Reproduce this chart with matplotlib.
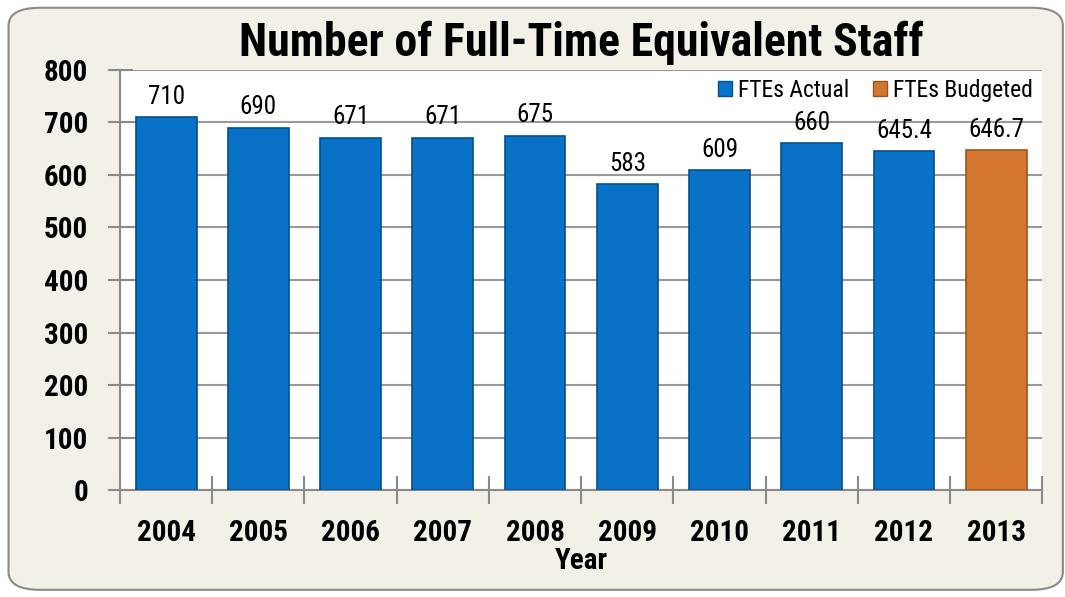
import matplotlib.pyplot as plt
import numpy as np
from matplotlib.patches import FancyBboxPatch, Patch

plt.rcParams['font.family'] = ['Roboto Condensed', 'DejaVu Sans']

years = ['2004', '2005', '2006', '2007', '2008', '2009', '2010', '2011', '2012', '2013']
ftes = [710, 690, 671, 671, 675, 583, 609, 660, 645.4, 646.7]
labels = ['710', '690', '671', '671', '675', '583', '609', '660', '645.4', '646.7']
budgeted = [False] * 9 + [True]

blue = '#0A72C6'
orange = '#D27630'

fig = plt.figure(figsize=(10.65, 5.97), dpi=100)
fig.patch.set_facecolor('white')
# rounded beige background panel
panel = FancyBboxPatch((0.008, 0.012), 0.99, 0.975, boxstyle='round,pad=0,rounding_size=0.03',
                       transform=fig.transFigure, facecolor='#F3F1E7', edgecolor='#8A8A8A',
                       linewidth=1.5, zorder=-10)
fig.patches.append(panel)

ax = fig.add_axes([0.1127, 0.179, 0.866, 0.704])
ax.set_facecolor('white')

x = np.arange(len(years))
colors = [orange if b else blue for b in budgeted]
edges = ['#9C5520' if b else '#05508E' for b in budgeted]
bars = ax.bar(x, ftes, width=0.66, color=colors, edgecolor=edges, linewidth=1.2, zorder=3)
ax.bar_label(bars, labels=labels, padding=6, fontsize=18)

ax.set_ylim(0, 800)
ax.set_xlim(-0.5, len(years) - 0.5)
ax.set_yticks(np.arange(0, 801, 100))
ax.set_xticks(x)
ax.set_xticklabels(years, fontsize=21, fontweight='bold')
ax.set_xticks(np.arange(-0.5, len(years)), minor=True)
ax.tick_params(axis='x', which='major', length=0, pad=21)
ax.tick_params(axis='x', which='minor', direction='inout', length=20, width=1.5, color='#8A8A8A')
ax.tick_params(axis='y', direction='inout', length=18, width=1.5, color='#8A8A8A', pad=14)
for t in ax.get_yticklabels():
    t.set_fontsize(21)
    t.set_fontweight('bold')

ax.grid(axis='y', color='#9A9A9A', linewidth=1.5, zorder=0)
ax.set_axisbelow(True)
for s in ['top', 'right']:
    ax.spines[s].set_visible(False)
for s in ['left', 'bottom']:
    ax.spines[s].set_color('#8A8A8A')
    ax.spines[s].set_linewidth(1.5)

ax.set_xlabel('Year', fontsize=21, fontweight='bold', labelpad=0)
fig.text(0.5455, 0.928, 'Number of Full-Time Equivalent Staff', ha='center', va='center',
         fontsize=33, fontweight='bold')

handles = [Patch(facecolor=blue, edgecolor='#05508E'), Patch(facecolor=orange, edgecolor='#9C5520')]
leg = ax.legend(handles, ['FTEs Actual', 'FTEs Budgeted'], loc='upper right', ncol=2,
                fontsize=17, frameon=True, fancybox=False, borderaxespad=0.1,
                handlelength=0.6, handleheight=0.6, handletextpad=0.25, columnspacing=1.0,
                borderpad=0.3)
leg.get_frame().set_facecolor('white')
leg.get_frame().set_edgecolor('none')
leg.get_frame().set_alpha(1)

fig.savefig('out.png', dpi=100)
